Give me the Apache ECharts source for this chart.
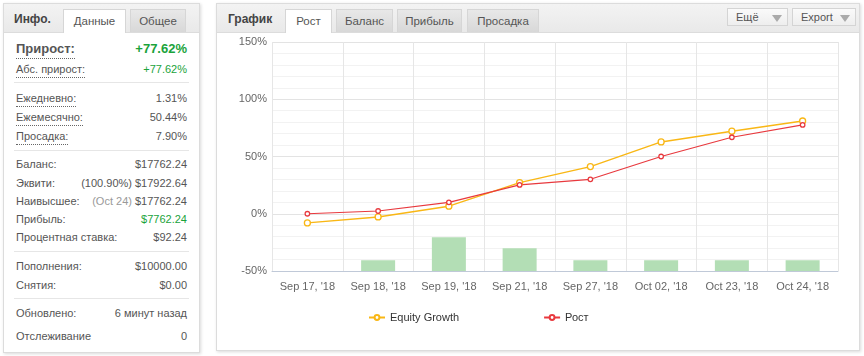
<!DOCTYPE html>
<html><head><meta charset="utf-8">
<script src="https://cdn.jsdelivr.net/npm/echarts@6/dist/echarts.min.js"></script>
<style>
html,body{margin:0;padding:0;width:864px;height:356px;background:#fff;overflow:hidden;font-family:"Liberation Sans",Arial,sans-serif;color:#555;}
.panel{position:absolute;background:#fff;border:1px solid #dcdcdc;box-shadow:1px 1px 3px rgba(0,0,0,0.15);}
.hdr{position:absolute;left:0;top:0;right:0;height:28px;background:linear-gradient(#f3f3f3,#e9e9e9);border-bottom:1px solid #dcdcdc;}
.title{position:absolute;top:8px;font-weight:bold;font-size:12px;color:#444;}
.tab{position:absolute;top:5px;height:23px;line-height:22px;font-size:11.5px;color:#555;text-align:center;box-sizing:border-box;border:1px solid #d6d6d6;border-bottom:none;background:linear-gradient(#e8e8e8,#d8d8d8);}
.tab.act{background:#fff;height:24px;}
.row{position:absolute;left:12px;right:12px;height:14px;line-height:14px;font-size:11px;}
.row .l{position:absolute;left:0;top:0;}
.row .r{position:absolute;right:0;top:0;}
.dot{border-bottom:1px dotted #666;padding-bottom:1px;}
.sep{position:absolute;left:10px;right:10px;height:1px;background:#e6e6e6;}
.green{color:#1aa33b;}
.btn{position:absolute;top:4px;height:18px;line-height:17px;font-size:11px;color:#555;box-sizing:border-box;border:1px solid #d4d4d4;background:linear-gradient(#fafafa,#eeeeee);padding-left:8px;}
.btn .tri{position:absolute;right:5px;top:6px;width:0;height:0;border-left:5px solid transparent;border-right:5px solid transparent;border-top:7px solid #aaa;}
#chart{position:absolute;left:0;top:0;width:864px;height:356px;}
</style></head>
<body>
<div class="panel" style="left:3px;top:3px;width:195px;height:348px;">
  <div class="hdr"></div>
  <div class="title" style="left:10px;">Инфо.</div>
  <div class="tab act" style="left:59px;width:63px;">Данные</div>
  <div class="tab" style="left:126px;width:56px;">Общее</div>
  <div class="row" style="top:37px;height:16px;line-height:16px;font-size:13px;font-weight:bold;"><span class="l dot" style="color:#555;">Прирост:</span><span class="r green">+77.62%</span></div>
  <div class="row" style="top:58px;"><span class="l dot">Абс. прирост:</span><span class="r green">+77.62%</span></div>
  <div class="sep" style="top:78px;"></div>
  <div class="row" style="top:87px;"><span class="l dot">Ежедневно:</span><span class="r">1.31%</span></div>
  <div class="row" style="top:106px;"><span class="l dot">Ежемесячно:</span><span class="r">50.44%</span></div>
  <div class="row" style="top:125px;"><span class="l dot">Просадка:</span><span class="r">7.90%</span></div>
  <div class="sep" style="top:146px;"></div>
  <div class="row" style="top:153px;"><span class="l">Баланс:</span><span class="r">$17762.24</span></div>
  <div class="row" style="top:172px;"><span class="l">Эквити:</span><span class="r">(100.90%) $17922.64</span></div>
  <div class="row" style="top:190px;"><span class="l">Наивысшее:</span><span class="r"><span style="color:#999;">(Oct 24)</span> $17762.24</span></div>
  <div class="row" style="top:208px;"><span class="l">Прибыль:</span><span class="r green">$7762.24</span></div>
  <div class="row" style="top:226px;"><span class="l">Процентная ставка:</span><span class="r">$92.24</span></div>
  <div class="sep" style="top:247px;"></div>
  <div class="row" style="top:255px;"><span class="l">Пополнения:</span><span class="r">$10000.00</span></div>
  <div class="row" style="top:274px;"><span class="l">Снятия:</span><span class="r">$0.00</span></div>
  <div class="sep" style="top:294px;"></div>
  <div class="row" style="top:302px;"><span class="l">Обновлено:</span><span class="r">6 минут назад</span></div>
  <div class="row" style="top:325px;"><span class="l">Отслеживание</span><span class="r">0</span></div>
</div>
<div class="panel" style="left:216px;top:3px;width:642px;height:346px;">
  <div class="hdr"></div>
  <div class="title" style="left:11px;">График</div>
  <div class="tab act" style="left:68px;width:47px;">Рост</div>
  <div class="tab" style="left:119px;width:57px;">Баланс</div>
  <div class="tab" style="left:180px;width:65px;">Прибыль</div>
  <div class="tab" style="left:250px;width:72px;">Просадка</div>
  <div class="btn" style="left:510px;width:61px;">Ещё<span class="tri"></span></div>
  <div class="btn" style="left:575px;width:64px;">Export<span class="tri"></span></div>
</div>
<div id="chart"></div>
<script>
var categories = ["Sep 17, '18","Sep 18, '18","Sep 19, '18","Sep 21, '18","Sep 27, '18","Oct 02, '18","Oct 23, '18","Oct 24, '18"];
var equityGrowth = [-8.0, -2.8, 6.6, 27.2, 41.2, 62.7, 72.1, 81.0];
var growth = [0, 2.4, 10.0, 25.2, 30.1, 50.0, 66.8, 77.62];
var barValues = [null, 9.3, 29.4, 19.8, 9.3, 9.3, 9.3, 9.3];
var yTicks = [-50, 0, 50, 100, 150];

var chart = echarts.init(document.getElementById('chart'), null, {renderer:'canvas'});
chart.setOption({
  backgroundColor: 'transparent',
  animation: false,
  textStyle: {fontFamily: '"Liberation Sans", Arial, sans-serif'},
  grid: {left: 272, top: 42, right: 26, bottom: 85, containLabel: false},
  legend: {
    left: 363, top: 307, itemGap: 84, itemWidth: 16, itemHeight: 6,
    textStyle: {fontSize: 11, color: '#333'},
    data: ['Equity Growth', 'Рост']
  },
  xAxis: {
    type: 'category', data: categories, boundaryGap: true,
    axisLine: {onZero: false, lineStyle: {color: '#c0c9d8'}},
    axisTick: {show: false},
    axisLabel: {color: '#666', fontSize: 11, margin: 10, interval: 0},
    splitLine: {show: true, interval: 0, lineStyle: {color: '#e6e6e6'}}
  },
  yAxis: [{
    type: 'value', min: yTicks[0], max: yTicks[yTicks.length-1], interval: 50,
    axisLine: {show: false}, axisTick: {show: false},
    axisLabel: {color: '#666', fontSize: 11, margin: 5, formatter: '{value}%'},
    splitLine: {lineStyle: {color: '#e3e3e3'}},
    minorTick: {show: false, splitNumber: 5},
    minorSplitLine: {show: true, lineStyle: {color: '#f2f2f2'}}
  }, {
    type: 'value', min: 0, max: 200, show: false
  }],
  series: [{
    name: 'bars', type: 'bar', yAxisIndex: 1, data: barValues,
    barWidth: 34, itemStyle: {color: '#b3deb5'}, silent: true
  }, {
    name: 'Equity Growth', type: 'line', data: equityGrowth,
    color: '#f9b715', symbol: 'circle', symbolSize: 6,
    itemStyle: {color: '#fff', borderColor: '#f9b715', borderWidth: 1.3},
    lineStyle: {color: '#f9b715', width: 1.4}
  }, {
    name: 'Рост', type: 'line', data: growth,
    color: '#e8393e', symbol: 'circle', symbolSize: 4.5,
    itemStyle: {color: '#fff', borderColor: '#e8393e', borderWidth: 1.3},
    lineStyle: {color: '#e8393e', width: 1.2}
  }]
});
</script>
</body></html>
